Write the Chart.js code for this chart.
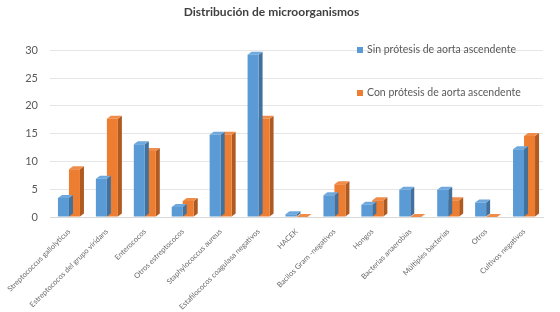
<!DOCTYPE html>
<html>
<head>
<meta charset="utf-8">
<script src="https://cdn.jsdelivr.net/npm/chart.js@4"></script>
<style>
 body{margin:0;background:#fff;}
 #wrap{width:560px;height:312px;position:relative;}
</style>
</head>
<body>
<div id="wrap"><canvas id="myChart"></canvas></div>
<script>
// categories and series
const categorias=['Streptococcus gallolyticus','Estreptococos del grupo viridans','Enterococos','Otros estreptococos','Staphylococcus aureus','Estafilococos coagulasa negativos','HACEK','Bacilos Gram -negativos','Hongos','Bacterias anaerobias','Múltiples bacterias','Otros','Cultivos negativos'];
const sinProtesis=[3.4,6.9,13.1,1.8,14.8,29.2,0.5,3.9,2.2,4.9,4.9,2.6,12.2];
const conProtesis=[8.6,17.7,11.9,2.9,14.8,17.7,0,5.9,3.0,0,3.0,0,14.6];
const yTicks=[0,5,10,15,20,25,30];

const colores=['#5B9BD5','#ED7D31'];
const lados=['#41719C','#AE5A21'];
const techos=['#6FA8DC','#F08C4A'];

//fake 3d: side + top face drawn behind every bar
const profundidad={
 id:'profundidad',
 beforeDatasetDraw(chart,args){
   const ctx=chart.ctx;
   const i=args.index;
   const d=4, u=3;
   chart.getDatasetMeta(i).data.forEach(function(bar){
     const l=bar.x-bar.width/2, r=bar.x+bar.width/2;
     const top=bar.y, base=bar.base;
     ctx.save();
     ctx.fillStyle=lados[i];
     ctx.beginPath();
     ctx.moveTo(r,base);ctx.lineTo(r+d,base-u);ctx.lineTo(r+d,top-u);ctx.lineTo(r,top);ctx.closePath();
     ctx.fill();
     ctx.fillStyle=techos[i];
     ctx.beginPath();
     ctx.moveTo(l,top);ctx.lineTo(l+d,top-u);ctx.lineTo(r+d,top-u);ctx.lineTo(r,top);ctx.closePath();
     ctx.fill();
     ctx.restore();
   });
 }
};

const leyenda={
 id:'leyenda',
 afterDraw(chart){
   const ctx=chart.ctx;
   const pos=[[357,50],[357,93]];
   ctx.save();
   ctx.font='10.5px Lato';
   ctx.textBaseline='middle';
   chart.data.datasets.forEach(function(ds,i){
     ctx.fillStyle=ds.backgroundColor;
     ctx.fillRect(pos[i][0],pos[i][1]-3,6,6);
     ctx.fillStyle='#595959';
     ctx.fillText(ds.label,pos[i][0]+10,pos[i][1]);
   });
   ctx.restore();
 }
};

const ctx=document.getElementById('myChart');
new Chart(ctx,{
 type:'bar',
 data:{
   labels:categorias,
   datasets:[
     {label:'Sin prótesis de aorta ascendente',data:sinProtesis,backgroundColor:colores[0]},
     {label:'Con prótesis de aorta ascendente',data:conProtesis,backgroundColor:colores[1]}
   ]
 },
 options:{
   responsive:true,
   maintainAspectRatio:false,
   animation:false,
   layout:{padding:{right:17,top:0}},
   datasets:{bar:{barPercentage:1,categoryPercentage:0.58}},
   plugins:{
     legend:{display:false},
     tooltip:{enabled:false},
     title:{display:true,text:'Distribución de microorganismos',color:'#404040',
       font:{family:'Lato',size:12,weight:'bold'},padding:{top:5,bottom:31}}
   },
   scales:{
     y:{
       min:0,max:30,
       afterBuildTicks(s){s.ticks=yTicks.map(v=>({value:v}));},
       afterFit(s){s.width=50;},
       border:{display:false},
       grid:{color:'#E6E6E6',drawTicks:false},
       ticks:{color:'#595959',padding:12,font:{family:'Lato',size:11}}
     },
     x:{
       afterFit(s){s.height=95;},
       border:{color:'#D9D9D9'},
       grid:{display:false},
       ticks:{color:'#6A6A6A',minRotation:45,maxRotation:45,autoSkip:false,padding:2,font:{family:'Lato',size:7.5}}
     }
   }
 },
 plugins:[profundidad,leyenda]
});
</script>
</body>
</html>
